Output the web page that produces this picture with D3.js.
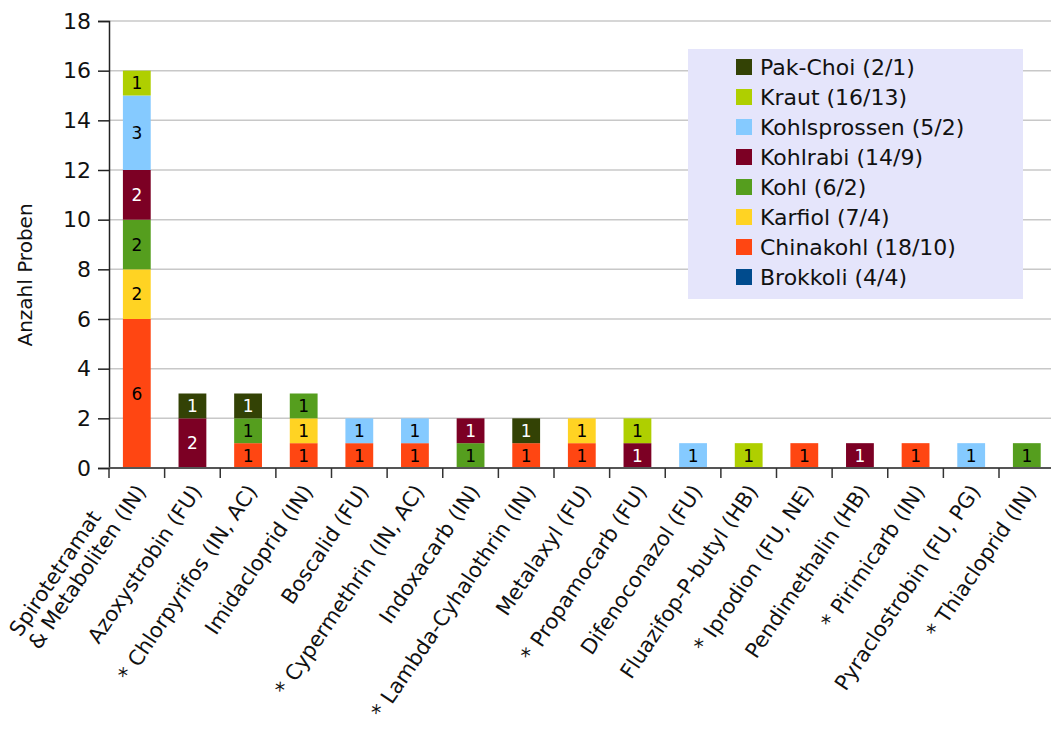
<!DOCTYPE html>
<html>
<head>
<meta charset="utf-8">
<script src="https://cdn.jsdelivr.net/npm/d3@7"></script>
<style>
  body { margin: 0; background: #fff; }
  text { font-family: "DejaVu Sans", sans-serif; }
</style>
</head>
<body>
<div id="chart"></div>
<script>
// categories along the x axis (first one wraps onto two lines)
const categories = [
    ["Spirotetramat", "& Metaboliten (IN)"],
    ["Azoxystrobin (FU)"],
    ["* Chlorpyrifos (IN, AC)"],
    ["Imidacloprid (IN)"],
    ["Boscalid (FU)"],
    ["* Cypermethrin (IN, AC)"],
    ["Indoxacarb (IN)"],
    ["* Lambda-Cyhalothrin (IN)"],
    ["Metalaxyl (FU)"],
    ["* Propamocarb (FU)"],
    ["Difenoconazol (FU)"],
    ["Fluazifop-P-butyl (HB)"],
    ["* Iprodion (FU, NE)"],
    ["Pendimethalin (HB)"],
    ["* Pirimicarb (IN)"],
    ["Pyraclostrobin (FU, PG)"],
    ["* Thiacloprid (IN)"]
];

// stacked bottom -> top
const seriesNames = ["Brokkoli", "Chinakohl", "Karfiol", "Kohl", "Kohlrabi", "Kohlsprossen", "Kraut", "Pak-Choi"];
const legendLabels = ["Brokkoli (4/4)", "Chinakohl (18/10)", "Karfiol (7/4)", "Kohl (6/2)",
                      "Kohlrabi (14/9)", "Kohlsprossen (5/2)", "Kraut (16/13)", "Pak-Choi (2/1)"];
const seriesColors = ["#004b8d", "#ff4612", "#ffd323", "#559e1e", "#7c0024", "#85caff", "#afcf00", "#334205"];
const labelColors = ["#fff", "#000", "#000", "#000", "#fff", "#000", "#000", "#fff"];

const brokkoli     = [0, 0, 0, 0, 0, 0, 0, 0, 0, 0, 0, 0, 0, 0, 0, 0, 0];
const chinakohl    = [6, 0, 1, 1, 1, 1, 0, 1, 1, 0, 0, 0, 1, 0, 1, 0, 0];
const karfiol      = [2, 0, 0, 1, 0, 0, 0, 0, 1, 0, 0, 0, 0, 0, 0, 0, 0];
const kohl         = [2, 0, 1, 1, 0, 0, 1, 0, 0, 0, 0, 0, 0, 0, 0, 0, 1];
const kohlrabi     = [2, 2, 0, 0, 0, 0, 1, 0, 0, 1, 0, 0, 0, 1, 0, 0, 0];
const kohlsprossen = [3, 0, 0, 0, 1, 1, 0, 0, 0, 0, 1, 0, 0, 0, 0, 1, 0];
const kraut        = [1, 0, 0, 0, 0, 0, 0, 0, 0, 1, 0, 1, 0, 0, 0, 0, 0];
const pakChoi      = [0, 1, 1, 0, 0, 0, 0, 1, 0, 0, 0, 0, 0, 0, 0, 0, 0];
const seriesValues = [brokkoli, chinakohl, karfiol, kohl, kohlrabi, kohlsprossen, kraut, pakChoi];

const yTicks = [0, 2, 4, 6, 8, 10, 12, 14, 16, 18];

let width = 1051, height = 731;
let margin = { top: 21, left: 109 };
let plotW = 17 * 55.625, plotH = 447;

let svg = d3.select("#chart").append("svg")
    .attr("width", width)
    .attr("height", height);

let g = svg.append("g").attr("transform", `translate(${margin.left},${margin.top})`);

let x = d3.scaleBand().domain(d3.range(categories.length)).range([0, plotW])
    .paddingInner(0.5).paddingOuter(0.25);
let y = d3.scaleLinear().domain([0, 18]).range([plotH, 0]);

// grid
g.selectAll(".grid").data(yTicks.slice(1)).enter().append("line")
    .attr("x1", 0).attr("x2", plotW)
    .attr("y1", d => y(d)).attr("y2", d => y(d))
    .attr("stroke", "#c8c8c8").attr("stroke-width", 1.5);

// stacked data
let rows = categories.map((c, i) => {
    let r = { i: i };
    seriesNames.forEach((s, k) => r[s] = seriesValues[k][i]);
    return r;
});
let stacked = d3.stack().keys(seriesNames)(rows);

stacked.forEach((layer, k) => {
    let lg = g.append("g");
    let segs = layer.filter(d => d[1] - d[0] > 0);
    lg.selectAll("rect").data(segs).enter().append("rect")
        .attr("x", d => x(d.data.i))
        .attr("width", x.bandwidth())
        .attr("y", d => y(d[1]))
        .attr("height", d => y(d[0]) - y(d[1]))
        .attr("fill", seriesColors[k]);
    lg.selectAll("text").data(segs).enter().append("text")
        .attr("x", d => x(d.data.i) + x.bandwidth() / 2)
        .attr("y", d => (y(d[0]) + y(d[1])) / 2)
        .attr("dy", "0.36em")
        .attr("text-anchor", "middle")
        .attr("font-size", "17px")
        .attr("fill", labelColors[k])
        .text(d => d[1] - d[0]);
});

// y axis
let yAxis = g.append("g")
    .call(d3.axisLeft(y).tickValues(yTicks).tickSize(11).tickPadding(7));
yAxis.select(".domain").attr("stroke", "#222").attr("stroke-width", 1.5);
yAxis.selectAll(".tick line").attr("stroke", "#222").attr("stroke-width", 1.5);
yAxis.selectAll(".tick text").attr("font-size", "22px").attr("fill", "#111")
    .style("font-family", "'DejaVu Sans', sans-serif");

// x axis
let xAxis = g.append("g").attr("transform", `translate(0,${plotH})`);
xAxis.append("line").attr("x1", 0).attr("x2", plotW)
    .attr("stroke", "#555").attr("stroke-width", 2);
xAxis.selectAll(".xt").data(d3.range(categories.length + 1)).enter().append("line")
    .attr("x1", d => d * x.step()).attr("x2", d => d * x.step())
    .attr("y1", 0).attr("y2", 10)
    .attr("stroke", "#333").attr("stroke-width", 1.5);

// x labels, rotated
const ang = -56;
categories.forEach((lines, i) => {
    let cx = x(i) + x.bandwidth() / 2 + 4;
    let lg = xAxis.append("g").attr("transform", `translate(${cx},19) rotate(${ang})`);
    let last = lg.append("text")
        .attr("text-anchor", "end")
        .attr("dy", "0.35em")
        .attr("font-size", "21px")
        .attr("fill", "#111")
        .text(lines[lines.length - 1]);
    if (lines.length > 1) {
        let w = last.node().getComputedTextLength();
        lg.append("text")
            .attr("x", -w)
            .attr("y", -23)
            .attr("text-anchor", "start")
            .attr("dy", "0.35em")
            .attr("font-size", "21px")
            .attr("fill", "#111")
            .text(lines[0]);
    }
});

// y title
svg.append("text")
    .attr("transform", "translate(32,275) rotate(-90)")
    .attr("text-anchor", "middle")
    .attr("font-size", "20px")
    .attr("fill", "#111")
    .text("Anzahl Proben");

// legend (reverse order, Pak-Choi on top)
let leg = svg.append("g").attr("transform", "translate(688,49)");
leg.append("rect").attr("width", 335).attr("height", 250).attr("fill", "#e5e5fb");
let items = d3.range(seriesNames.length).reverse();
items.forEach((k, j) => {
    let yy = 18 + j * 30;
    leg.append("rect").attr("x", 48).attr("y", yy - 8).attr("width", 16).attr("height", 16)
        .attr("fill", seriesColors[k]);
    leg.append("text").attr("x", 72).attr("y", yy).attr("dy", "0.35em")
        .attr("font-size", "22px").attr("fill", "#111")
        .text(legendLabels[k]);
});
</script>
</body>
</html>
